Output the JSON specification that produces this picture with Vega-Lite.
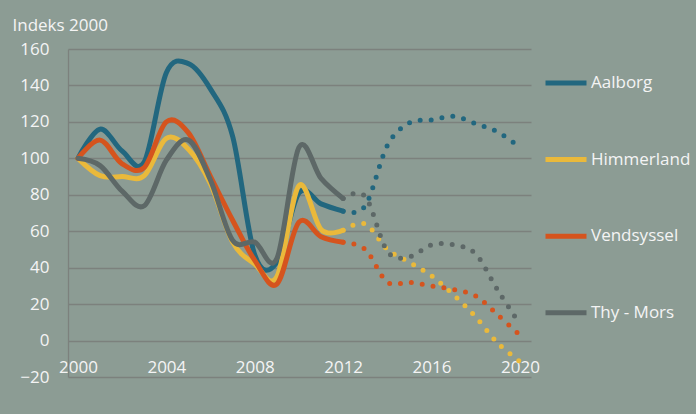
{
  "$schema": "https://vega.github.io/schema/vega-lite/v6.json",
  "width": 463,
  "height": 328,
  "autosize": {"type": "none"},
  "padding": {"left": 68, "top": 49, "right": 165, "bottom": 37},
  "background": "#8c9c94",
  "config": {"view": {"stroke": null}, "font": "Open Sans"},
  "data": {
    "values": [
      {"series": "Aalborg", "kind": "faktisk", "year": 2000, "value": 100},
      {"series": "Aalborg", "kind": "faktisk", "year": 2001, "value": 116},
      {"series": "Aalborg", "kind": "faktisk", "year": 2002, "value": 104},
      {"series": "Aalborg", "kind": "faktisk", "year": 2003, "value": 98},
      {"series": "Aalborg", "kind": "faktisk", "year": 2004, "value": 147},
      {"series": "Aalborg", "kind": "faktisk", "year": 2005, "value": 152},
      {"series": "Aalborg", "kind": "faktisk", "year": 2006, "value": 138},
      {"series": "Aalborg", "kind": "faktisk", "year": 2007, "value": 112},
      {"series": "Aalborg", "kind": "faktisk", "year": 2008, "value": 47},
      {"series": "Aalborg", "kind": "faktisk", "year": 2009, "value": 43},
      {"series": "Aalborg", "kind": "faktisk", "year": 2010, "value": 81},
      {"series": "Aalborg", "kind": "faktisk", "year": 2011, "value": 75},
      {"series": "Aalborg", "kind": "faktisk", "year": 2012, "value": 71},
      {"series": "Himmerland", "kind": "faktisk", "year": 2000, "value": 100},
      {"series": "Himmerland", "kind": "faktisk", "year": 2001, "value": 90.5},
      {"series": "Himmerland", "kind": "faktisk", "year": 2002, "value": 90},
      {"series": "Himmerland", "kind": "faktisk", "year": 2003, "value": 90.5},
      {"series": "Himmerland", "kind": "faktisk", "year": 2004, "value": 111},
      {"series": "Himmerland", "kind": "faktisk", "year": 2005, "value": 105},
      {"series": "Himmerland", "kind": "faktisk", "year": 2006, "value": 86},
      {"series": "Himmerland", "kind": "faktisk", "year": 2007, "value": 54},
      {"series": "Himmerland", "kind": "faktisk", "year": 2008, "value": 42},
      {"series": "Himmerland", "kind": "faktisk", "year": 2009, "value": 35},
      {"series": "Himmerland", "kind": "faktisk", "year": 2010, "value": 85},
      {"series": "Himmerland", "kind": "faktisk", "year": 2011, "value": 61},
      {"series": "Himmerland", "kind": "faktisk", "year": 2012, "value": 60.5},
      {"series": "Vendsyssel", "kind": "faktisk", "year": 2000, "value": 100},
      {"series": "Vendsyssel", "kind": "faktisk", "year": 2001, "value": 110},
      {"series": "Vendsyssel", "kind": "faktisk", "year": 2002, "value": 97},
      {"series": "Vendsyssel", "kind": "faktisk", "year": 2003, "value": 95},
      {"series": "Vendsyssel", "kind": "faktisk", "year": 2004, "value": 120},
      {"series": "Vendsyssel", "kind": "faktisk", "year": 2005, "value": 114},
      {"series": "Vendsyssel", "kind": "faktisk", "year": 2006, "value": 90},
      {"series": "Vendsyssel", "kind": "faktisk", "year": 2007, "value": 66},
      {"series": "Vendsyssel", "kind": "faktisk", "year": 2008, "value": 44},
      {"series": "Vendsyssel", "kind": "faktisk", "year": 2009, "value": 31},
      {"series": "Vendsyssel", "kind": "faktisk", "year": 2010, "value": 65},
      {"series": "Vendsyssel", "kind": "faktisk", "year": 2011, "value": 57},
      {"series": "Vendsyssel", "kind": "faktisk", "year": 2012, "value": 54},
      {"series": "Thy - Mors", "kind": "faktisk", "year": 2000, "value": 100},
      {"series": "Thy - Mors", "kind": "faktisk", "year": 2001, "value": 96},
      {"series": "Thy - Mors", "kind": "faktisk", "year": 2002, "value": 82},
      {"series": "Thy - Mors", "kind": "faktisk", "year": 2003, "value": 74},
      {"series": "Thy - Mors", "kind": "faktisk", "year": 2004, "value": 99},
      {"series": "Thy - Mors", "kind": "faktisk", "year": 2005, "value": 110},
      {"series": "Thy - Mors", "kind": "faktisk", "year": 2006, "value": 88},
      {"series": "Thy - Mors", "kind": "faktisk", "year": 2007, "value": 55},
      {"series": "Thy - Mors", "kind": "faktisk", "year": 2008, "value": 54},
      {"series": "Thy - Mors", "kind": "faktisk", "year": 2009, "value": 45},
      {"series": "Thy - Mors", "kind": "faktisk", "year": 2010, "value": 106},
      {"series": "Thy - Mors", "kind": "faktisk", "year": 2011, "value": 89},
      {"series": "Thy - Mors", "kind": "faktisk", "year": 2012, "value": 78},
      {"series": "Aalborg", "kind": "prognose", "year": 2012, "value": 71},
      {"series": "Aalborg", "kind": "prognose", "year": 2013, "value": 74},
      {"series": "Aalborg", "kind": "prognose", "year": 2014, "value": 107},
      {"series": "Aalborg", "kind": "prognose", "year": 2015, "value": 119.5},
      {"series": "Aalborg", "kind": "prognose", "year": 2016, "value": 121},
      {"series": "Aalborg", "kind": "prognose", "year": 2017, "value": 123},
      {"series": "Aalborg", "kind": "prognose", "year": 2018, "value": 119},
      {"series": "Aalborg", "kind": "prognose", "year": 2019, "value": 114.5},
      {"series": "Aalborg", "kind": "prognose", "year": 2020, "value": 106},
      {"series": "Himmerland", "kind": "prognose", "year": 2012, "value": 60.5},
      {"series": "Himmerland", "kind": "prognose", "year": 2013, "value": 64},
      {"series": "Himmerland", "kind": "prognose", "year": 2014, "value": 50},
      {"series": "Himmerland", "kind": "prognose", "year": 2015, "value": 43},
      {"series": "Himmerland", "kind": "prognose", "year": 2016, "value": 35.5},
      {"series": "Himmerland", "kind": "prognose", "year": 2017, "value": 25},
      {"series": "Himmerland", "kind": "prognose", "year": 2018, "value": 13},
      {"series": "Himmerland", "kind": "prognose", "year": 2019, "value": -1.5},
      {"series": "Himmerland", "kind": "prognose", "year": 2020, "value": -11.5},
      {"series": "Vendsyssel", "kind": "prognose", "year": 2012, "value": 54},
      {"series": "Vendsyssel", "kind": "prognose", "year": 2013, "value": 50},
      {"series": "Vendsyssel", "kind": "prognose", "year": 2014, "value": 32},
      {"series": "Vendsyssel", "kind": "prognose", "year": 2015, "value": 32},
      {"series": "Vendsyssel", "kind": "prognose", "year": 2016, "value": 30},
      {"series": "Vendsyssel", "kind": "prognose", "year": 2017, "value": 28},
      {"series": "Vendsyssel", "kind": "prognose", "year": 2018, "value": 24.5},
      {"series": "Vendsyssel", "kind": "prognose", "year": 2019, "value": 14},
      {"series": "Vendsyssel", "kind": "prognose", "year": 2020, "value": 3},
      {"series": "Thy - Mors", "kind": "prognose", "year": 2012, "value": 78},
      {"series": "Thy - Mors", "kind": "prognose", "year": 2013, "value": 79},
      {"series": "Thy - Mors", "kind": "prognose", "year": 2014, "value": 49},
      {"series": "Thy - Mors", "kind": "prognose", "year": 2015, "value": 46},
      {"series": "Thy - Mors", "kind": "prognose", "year": 2016, "value": 52.5},
      {"series": "Thy - Mors", "kind": "prognose", "year": 2017, "value": 52.5},
      {"series": "Thy - Mors", "kind": "prognose", "year": 2018, "value": 47.5},
      {"series": "Thy - Mors", "kind": "prognose", "year": 2019, "value": 27.5},
      {"series": "Thy - Mors", "kind": "prognose", "year": 2020, "value": 9}
    ]
  },
  "encoding": {
    "x": {
      "field": "year",
      "type": "quantitative",
      "scale": {"domain": [1999.55, 2020.5], "nice": false, "zero": false},
      "axis": {
        "values": [2000, 2004, 2008, 2012, 2016, 2020],
        "format": "d",
        "grid": false,
        "ticks": false,
        "domain": false,
        "offset": -37,
        "labelPadding": 19,
        "labelFontSize": 17,
        "labelColor": "#f4f4f4",
        "labelFlush": false,
        "title": null
      }
    },
    "y": {
      "field": "value",
      "type": "quantitative",
      "scale": {"domain": [-20, 160], "nice": false, "zero": false},
      "axis": {
        "values": [-20, 0, 20, 40, 60, 80, 100, 120, 140, 160],
        "grid": true,
        "gridColor": "#7c817d",
        "gridWidth": 1.3,
        "domain": true,
        "domainColor": "#7c817d",
        "domainWidth": 1.3,
        "ticks": false,
        "labelPadding": 19,
        "labelFontSize": 17,
        "labelColor": "#f4f4f4",
        "title": "Indeks 2000",
        "titleAngle": 0,
        "titleX": -56,
        "titleY": -19,
        "titleAlign": "left",
        "titleBaseline": "alphabetic",
        "titleFontSize": 17,
        "titleFontWeight": "normal",
        "titleColor": "#f4f4f4"
      }
    },
    "color": {
      "field": "series",
      "type": "nominal",
      "scale": {
        "domain": ["Aalborg", "Himmerland", "Vendsyssel", "Thy - Mors"],
        "range": ["#22677f", "#eab93b", "#d5541e", "#5d6867"]
      }
    }
  },
  "layer": [
    {
      "transform": [{"filter": "datum.kind === 'faktisk'"}],
      "mark": {"type": "line", "interpolate": "cardinal", "strokeWidth": 5, "strokeCap": "round", "strokeJoin": "round"},
      "encoding": {
        "color": {
          "field": "series",
          "type": "nominal",
          "scale": {
            "domain": ["Aalborg", "Himmerland", "Vendsyssel", "Thy - Mors"],
            "range": ["#22677f", "#eab93b", "#d5541e", "#5d6867"]
          },
          "legend": {
            "orient": "none",
            "legendX": 475,
            "legendY": 11,
            "title": null,
            "symbolType": "stroke",
            "symbolSize": 1681,
            "symbolStrokeWidth": 5,
            "labelFontSize": 17,
            "labelColor": "#f4f4f4",
            "labelOffset": 2,
            "rowPadding": 43.6
          }
        }
      }
    },
    {
      "transform": [{"filter": "datum.kind === 'prognose'"}],
      "mark": {"type": "line", "interpolate": "cardinal", "strokeWidth": 5, "strokeCap": "round", "strokeDash": [0, 11]},
      "encoding": {
        "color": {
          "field": "series",
          "type": "nominal",
          "legend": null
        }
      }
    }
  ]
}
